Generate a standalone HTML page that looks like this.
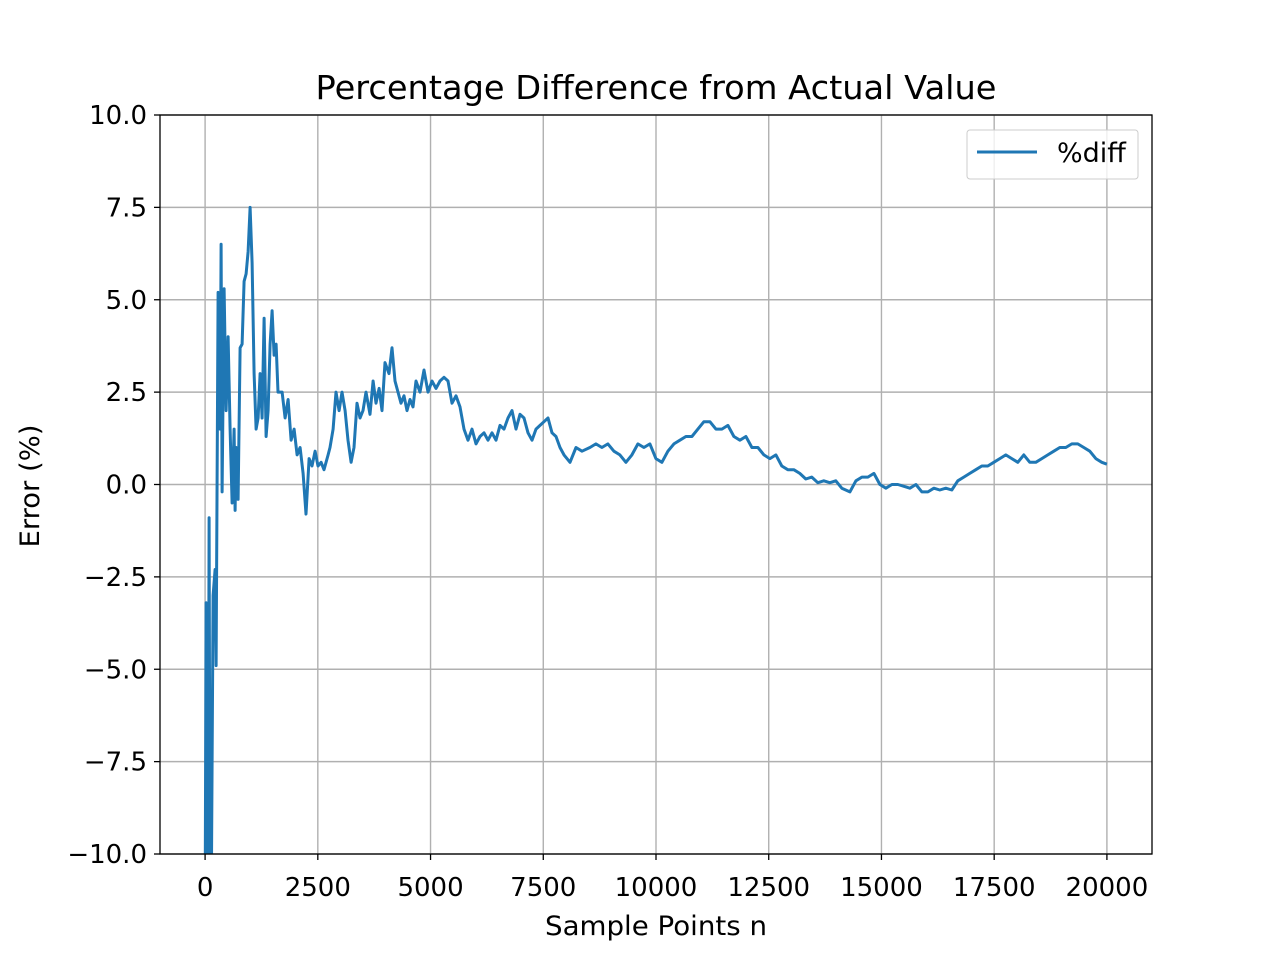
<!DOCTYPE html>
<html><head><meta charset="utf-8"><style>
body{margin:0;background:#fff}
svg text{font-family:"DejaVu Sans","Liberation Sans",sans-serif;fill:#000}
</style></head><body>
<svg id="chart" width="1280" height="960" xmlns="http://www.w3.org/2000/svg">
<rect width="1280" height="960" fill="#fff"/>
<defs><clipPath id="clip"><rect x="160" y="115" width="992" height="739"/></clipPath></defs>
<g id="grid"></g>
<g id="series" clip-path="url(#clip)"></g>
<rect x="160" y="115" width="992" height="739" fill="none" stroke="#000" stroke-width="1.3"/>
<g id="ticks"></g>
<text x="656" y="99" font-size="33" text-anchor="middle" textLength="681" lengthAdjust="spacingAndGlyphs">Percentage Difference from Actual Value</text>
<text x="656" y="935" font-size="27" text-anchor="middle" textLength="222" lengthAdjust="spacingAndGlyphs">Sample Points n</text>
<text transform="translate(39,486) rotate(-90)" font-size="27" text-anchor="middle" textLength="123" lengthAdjust="spacingAndGlyphs">Error (%)</text>
<g>
<rect x="967" y="130" width="171" height="49" rx="3" fill="#fff" fill-opacity="0.8" stroke="#ccc"/>
<line x1="977" y1="152" x2="1037" y2="152" stroke="#1f77b4" stroke-width="3"/>
<text x="1057" y="162" font-size="27">%diff</text>
</g>
</svg>
<script>
const xTicks=[0,2500,5000,7500,10000,12500,15000,17500,20000];
const yTicks=[-10,-7.5,-5,-2.5,0,2.5,5,7.5,10];
const yTickLabels=["\u221210.0","\u22127.5","\u22125.0","\u22122.5","0.0","2.5","5.0","7.5","10.0"];
const nVals=[0,22,44,67,89,111,133,177,222,244,288,333,355,377,421,466,510,554,599,643,665,687,732,776,820,865,909,953,998,1042,1086,1131,1175,1219,1264,1308,1352,1397,1441,1485,1530,1574,1618,1707,1774,1840,1907,1973,2040,2106,2173,2239,2306,2372,2439,2505,2572,2638,2727,2771,2838,2904,2971,3037,3104,3170,3237,3303,3370,3436,3503,3569,3658,3725,3791,3858,3924,3991,4079,4146,4212,4279,4345,4412,4478,4545,4611,4678,
4767,4855,4944,5033,5122,5210,5299,5388,5476,5565,5654,5742,5831,5920,6009,6097,6186,6275,6363,6452,6541,6629,6718,6807,6896,6984,7073,7162,7250,7339,7428,7516,7605,7694,7783,7871,
7959,8092,8225,8358,
8535,8668,8801,8934,9067,9200,9333,9466,9599,9732,9865,9998,10131,10264,10397,10530,10663,10796,10929,11062,11195,11328,11461,11594,11727,11860,11993,12126,12259,12392,12525,12658,12791,12924,13057,13190,13323,13456,13589,13722,13855,13988,14121,
14300,14433,14566,14699,14832,14965,15098,15231,15364,15497,15630,15763,15896,16029,16162,16295,16428,16561,16694,16827,16960,17093,17226,17359,17492,17625,17758,17891,18024,18157,18290,18423,18556,18689,18822,18955,19088,19221,19354,19487,19620,19753,19886,20000];
const diffVals=[-12,-3.2,-12,-12,-0.9,-12,-12,-3,-2.3,-4.9,5.2,1.5,6.5,-0.2,5.3,2,4,1.5,-0.5,1.5,-0.7,1,-0.4,3.7,3.8,5.5,5.7,6.3,7.5,6,3,1.5,1.8,3,1.8,4.5,1.3,2,3.8,4.7,3.5,3.8,2.5,2.5,1.8,2.3,1.2,1.5,0.8,1.0,0.3,-0.8,0.7,0.5,0.9,0.5,0.6,0.4,0.8,1.0,1.5,2.5,2.0,2.5,2.0,1.2,0.6,1.0,2.2,1.8,2.0,2.5,1.9,2.8,2.2,2.6,2.0,3.3,3.0,3.7,2.8,2.5,2.2,2.4,2.0,2.3,2.1,2.8,
2.5,3.1,2.5,2.8,2.6,2.8,2.9,2.8,2.2,2.4,2.1,1.5,1.2,1.5,1.1,1.3,1.4,1.2,1.4,1.2,1.6,1.5,1.8,2.0,1.5,1.9,1.8,1.4,1.2,1.5,1.6,1.7,1.8,1.4,1.3,1.0,
0.8,0.6,1.0,0.9,
1.0,1.1,1.0,1.1,0.9,0.8,0.6,0.8,1.1,1.0,1.1,0.7,0.6,0.9,1.1,1.2,1.3,1.3,1.5,1.7,1.7,1.5,1.5,1.6,1.3,1.2,1.3,1.0,1.0,0.8,0.7,0.8,0.5,0.4,0.4,0.3,0.15,0.2,0.05,0.1,0.05,0.1,-0.1,
-0.2,0.1,0.2,0.2,0.3,0.0,-0.1,0.0,0.0,-0.05,-0.1,0.0,-0.2,-0.2,-0.1,-0.15,-0.1,-0.15,0.1,0.2,0.3,0.4,0.5,0.5,0.6,0.7,0.8,0.7,0.6,0.8,0.6,0.6,0.7,0.8,0.9,1.0,1.0,1.1,1.1,1.0,0.9,0.7,0.6,0.55];

const NS="http://www.w3.org/2000/svg";
const X0=160,X1=1152,Y0=854,Y1=115,xMin=-1000,xMax=21000,yMin=-10,yMax=10;
const sx=v=>X0+(v-xMin)/(xMax-xMin)*(X1-X0);
const sy=v=>Y0-(v-yMin)/(yMax-yMin)*(Y0-Y1);
function mk(tag,attrs,parent){const e=document.createElementNS(NS,tag);for(const k in attrs)e.setAttribute(k,attrs[k]);parent.appendChild(e);return e;}
const grid=document.getElementById('grid'),ticks=document.getElementById('ticks'),series=document.getElementById('series');
xTicks.forEach(t=>{
  const x=sx(t);
  const g=mk('line',{x1:x,x2:x,y1:Y1,y2:Y0,stroke:'#b0b0b0','stroke-width':1.4},grid);
  
  
  const tk=mk('line',{x1:x,x2:x,y1:Y0,y2:Y0+6,stroke:'#000','stroke-width':1.3},ticks);
  
  
  const tx=mk('text',{x:x,y:Y0+42,'font-size':26,'text-anchor':'middle'},ticks);
  tx.textContent=String(t);
  
  
});
yTicks.forEach((t,i)=>{
  const y=sy(t);
  const g=mk('line',{x1:X0,x2:X1,y1:y,y2:y,stroke:'#b0b0b0','stroke-width':1.4},grid);
  
  
  const tk=mk('line',{x1:X0-6,x2:X0,y1:y,y2:y,stroke:'#000','stroke-width':1.3},ticks);
  
  
  const tx=mk('text',{x:X0-13,y:y+9,'font-size':26,'text-anchor':'end'},ticks);
  tx.textContent=yTickLabels[i];
  
  
});
const d=nVals.map((n,i)=>(i?'L':'M')+sx(n).toFixed(1)+','+sy(diffVals[i]).toFixed(1)).join('');
const p=mk('path',{d:d,fill:'none',stroke:'#1f77b4','stroke-width':3,'stroke-linejoin':'round'},series);


</script>
</body></html>
